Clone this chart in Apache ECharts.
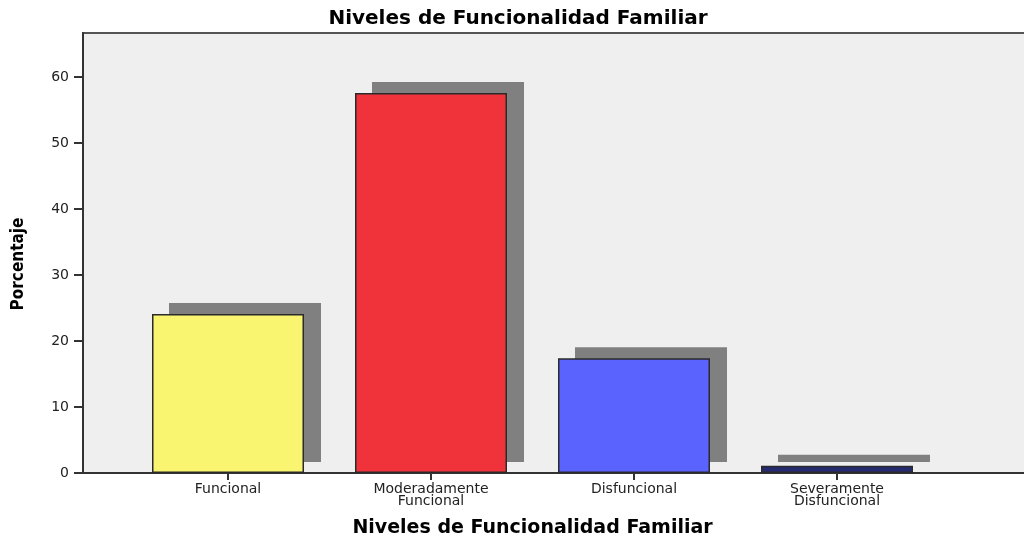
<!DOCTYPE html>
<html>
<head>
<meta charset="utf-8">
<script src="https://cdn.jsdelivr.net/npm/echarts@6/dist/echarts.min.js"></script>
<style>
  html, body { margin: 0; padding: 0; background: #fff; }
  #chart { width: 1024px; height: 538px; }
</style>
</head>
<body>
<div id="chart"></div>
<script>
const categorias = ["Funcional", "Moderadamente\nFuncional", "Disfuncional", "Severamente\nDisfuncional"];
const porcentajes = [24.1, 57.6, 17.4, 1.1];
const colores = ["#faf570", "#f0323a", "#5b63fe", "#262a70"];
const ticksY = [0, 10, 20, 30, 40, 50, 60];

const fuente = "'DejaVu Sans', Verdana, sans-serif";
const yMax = 66.7;

let myChart = echarts.init(document.getElementById("chart"));
myChart.setOption({
  backgroundColor: "#fff",
  animation: false,
  title: {
    text: "Niveles de Funcionalidad Familiar",
    left: 513,
    textAlign: "center",
    top: 4,
    textStyle: {
      fontFamily: fuente,
      fontSize: 20,
      fontWeight: "bold",
      color: "#000"
    }
  },
  grid: [
    {
      // fondo del area de grafico
      left: 83,
      right: -6,
      top: 33,
      bottom: 65,
      outerBoundsMode: "none",
      show: true,
      backgroundColor: "#efefef",
      borderColor: "#555",
      borderWidth: 2
    },
    {
      // sombras (desplazadas 17px a la derecha, 11px arriba)
      left: 143.5,
      right: 68.5,
      top: 22,
      bottom: 76,
      outerBoundsMode: "none"
    },
    {
      // barras
      left: 126.5,
      right: 85.5,
      top: 33,
      bottom: 65,
      outerBoundsMode: "none"
    }
  ],
  xAxis: [
    {
      gridIndex: 0,
      type: "value",
      min: 0,
      max: 1,
      axisLine: { show: true, onZero: false, lineStyle: { color: "#333", width: 2 } },
      axisTick: { show: false },
      axisLabel: { show: false },
      splitLine: { show: false }
    },
    {
      gridIndex: 1,
      type: "category",
      data: categorias,
      show: false
    },
    {
      gridIndex: 2,
      type: "category",
      data: categorias,
      axisLine: { show: false },
      axisTick: { show: true, alignWithLabel: true, length: 7, lineStyle: { color: "#333", width: 2 } },
      axisLabel: {
        interval: 0,
        margin: 10,
        lineHeight: 12,
        fontFamily: fuente,
        fontSize: 14,
        color: "#222"
      },
      name: "Niveles de Funcionalidad Familiar",
      nameLocation: "middle",
      nameGap: 46,
      nameTextStyle: {
        fontFamily: fuente,
        fontSize: 19,
        fontWeight: "bold",
        color: "#000"
      }
    }
  ],
  yAxis: [
    {
      gridIndex: 0,
      type: "value",
      min: 0,
      max: yMax,
      interval: 10,
      axisLine: { show: true, lineStyle: { color: "#333", width: 2 } },
      axisTick: { show: true, length: 9, lineStyle: { color: "#333", width: 2 } },
      axisLabel: {
        margin: 14,
        fontFamily: fuente,
        fontSize: 14,
        color: "#222",
        showMaxLabel: false,
        formatter: function (v) { return ticksY.indexOf(v) >= 0 ? String(v) : ""; }
      },
      splitLine: { show: false },
      name: "Porcentaje",
      nameLocation: "middle",
      nameGap: 56,
      nameTextStyle: {
        fontFamily: "'Liberation Sans Narrow', 'DejaVu Sans Condensed', sans-serif",
        fontSize: 17,
        fontWeight: "bold",
        color: "#000",
        padding: [0, 0, 0, -22]
      }
    },
    { gridIndex: 1, type: "value", min: 0, max: yMax, show: false },
    { gridIndex: 2, type: "value", min: 0, max: yMax, show: false }
  ],
  series: [
    {
      // sombra
      type: "bar",
      xAxisIndex: 1,
      yAxisIndex: 1,
      barWidth: 152,
      data: porcentajes,
      itemStyle: { color: "#808080" }
    },
    {
      type: "bar",
      xAxisIndex: 2,
      yAxisIndex: 2,
      barWidth: 152,
      data: porcentajes.map(function (v, i) {
        return { value: v, itemStyle: { color: colores[i] } };
      }),
      itemStyle: {
        borderColor: "#2a2a2a",
        borderWidth: 1.5
      }
    }
  ]
});
</script>
</body>
</html>
